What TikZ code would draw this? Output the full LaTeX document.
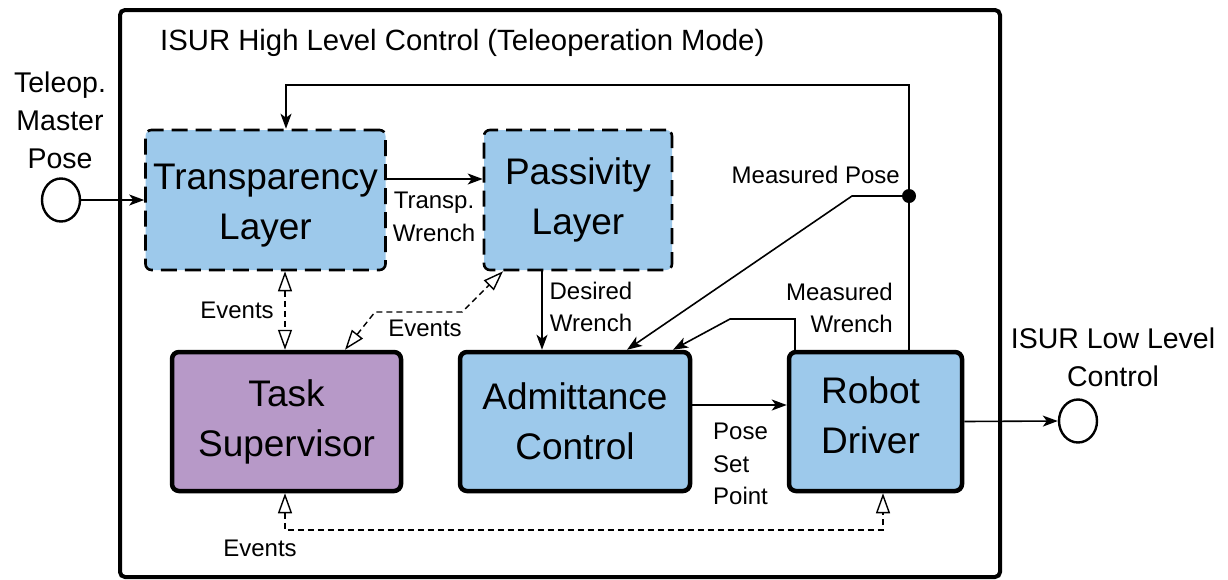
\documentclass[tikz,border=0pt]{standalone}
\usepackage{fontspec}
\setmainfont{Liberation Sans}
\usetikzlibrary{arrows.meta,calc,shapes.geometric}

\definecolor{blockblue}{RGB}{157,201,235}
\definecolor{blockpurple}{RGB}{183,153,200}

\newcommand{\blocktxt}{\fontsize{37}{50}\selectfont}
\newcommand{\outtxt}{\fontsize{28.5}{38}\selectfont}
\newcommand{\titletxt}{\fontsize{29.3}{38}\selectfont}
\newcommand{\lbltxt}{\fontsize{24}{32.5}\selectfont}

\tikzset{
  container/.style={draw, line width=4pt, rounded corners=5pt,
    minimum width=880pt, minimum height=567pt, inner sep=0pt},
  softblock/.style={draw, fill=blockblue, line width=2.6pt,
    dash pattern=on 16pt off 8pt, rounded corners=6pt,
    font=\blocktxt, align=center, inner sep=0pt},
  hardblock/.style={draw, line width=4.5pt, rounded corners=7pt,
    font=\blocktxt, align=center, inner sep=0pt},
  port/.style={draw, line width=2.4pt, ellipse, minimum width=38pt,
    minimum height=43pt, inner sep=0pt},
  junction/.style={circle, fill=black, minimum size=14pt, inner sep=0pt},
  lbl/.style={font=\lbltxt, inner sep=0pt},
  outlbl/.style={font=\outtxt, inner sep=0pt, align=center},
  flow/.style={line width=1.6pt,
    -{Stealth[length=15pt,width=11pt,inset=4pt]}},
  evt/.style={line width=1.4pt, dash pattern=on 6pt off 4pt,
    {Triangle[open,length=20pt,width=14pt]}-{Triangle[open,length=20pt,width=14pt]}},
}

\begin{document}
\begin{tikzpicture}[x=1pt, y=-1pt]
\useasboundingbox (0,0) rectangle (1228,579);

% outer frame and its title
\node[container] (hlc) at (560,293.5) {};
\node[font=\titletxt, inner sep=0pt, anchor=base west] (title) at (160,50)
  {ISUR High Level Control (Teleoperation Mode)};

% blocks
\node[softblock, minimum width=240pt, minimum height=140pt] (trans)
  at (265.5,200) {\rule{0pt}{37pt}Transparency\\Layer};
\node[softblock, minimum width=188pt, minimum height=140pt] (pass)
  at (578,200) {Passivity\\Layer};
\node[hardblock, fill=blockpurple, minimum width=229pt, minimum height=139pt]
  (task) at (286.5,421.5) {Task\\Supervisor};
\node[hardblock, fill=blockblue, minimum width=230pt, minimum height=139pt]
  (adm) at (575,421.5) {Admittance\\Control};
\node[hardblock, fill=blockblue, minimum width=173pt, minimum height=139pt]
  (robot) at (875.5,421.5)
  {Robot\hspace*{10pt}\\Driver\hspace*{10pt}\rule[-12pt]{0pt}{0pt}};

% external ports
\node[port] (lc) at (61,200) {};
\node[port] (rc) at (1078,421) {};
\node[outlbl] (teleop) at (60,120) {Teleop.\\Master\\Pose};
\node[outlbl] (lowlvl) at (1113,357) {ISUR Low Level\\Control};

% bend points
\coordinate (twY) at (0,179);
\coordinate (fbTR) at (909,85);
\coordinate (fbTL) at (286,85);
\node[junction] (mpdot) at (909,196) {};
\coordinate (mpK) at (852,196);
\coordinate (mpE) at (627,0);
\coordinate (mwA) at (795,0);
\coordinate (mwB) at (795,319);
\coordinate (mwC) at (730,319);
\coordinate (mwE) at (673,0);
\coordinate (dwX) at (542,0);
\coordinate (acY) at (0,405);
\coordinate (ev1X) at (285,0);
\coordinate (ev2A) at (345,0);
\coordinate (ev2B) at (375,312);
\coordinate (ev2C) at (462,312);
\coordinate (ev2D) at (503,0);
\coordinate (ev3L) at (285,530);
\coordinate (ev3R) at (883,530);

% signal flow
\draw[flow] (lc.east) -- (trans.west);
\draw[flow] (trans.east |- twY) -- (pass.west |- twY);
\draw[flow] (robot.north -| fbTR) -- (fbTR) -- (fbTL) -- (trans.north -| fbTL);
\draw[flow] (mpdot.center) -- (mpK) -- (adm.north -| mpE);
\draw[flow] (robot.north -| mwA) -- (mwB) -- (mwC) -- (adm.north -| mwE);
\draw[flow] (pass.south -| dwX) -- (adm.north -| dwX);
\draw[flow] (adm.east |- acY) -- (robot.west |- acY);
\draw[flow] (robot.east) -- (rc.west);

% event channels
\draw[evt] (trans.south -| ev1X) -- (task.north -| ev1X);
\draw[evt] (task.north -| ev2A) -- (ev2B) -- (ev2C) -- (pass.south -| ev2D);
\draw[evt] (task.south -| ev1X) -- (ev3L) -- (ev3R) -- (robot.south -| ev3R);

% connector labels
\node[lbl, align=center] (twl) at (434,217) {Transp.\\Wrench};
\node[lbl, align=center] (dwl) at (591,307) {Desired\\Wrench};
\node[lbl, anchor=base east] (mpl) at (900,183) {Measured Pose};
\node[lbl, align=right, anchor=east] (mwl) at (893,308) {Measured\\Wrench};
\node[lbl, align=left, anchor=west] (psl) at (713,464) {Pose\\Set\\Point};
\node[lbl] (ev1l) at (237,310) {Events};
\node[lbl] (ev2l) at (425,328) {Events};
\node[lbl] (ev3l) at (260,548) {Events};
\end{tikzpicture}
\end{document}
